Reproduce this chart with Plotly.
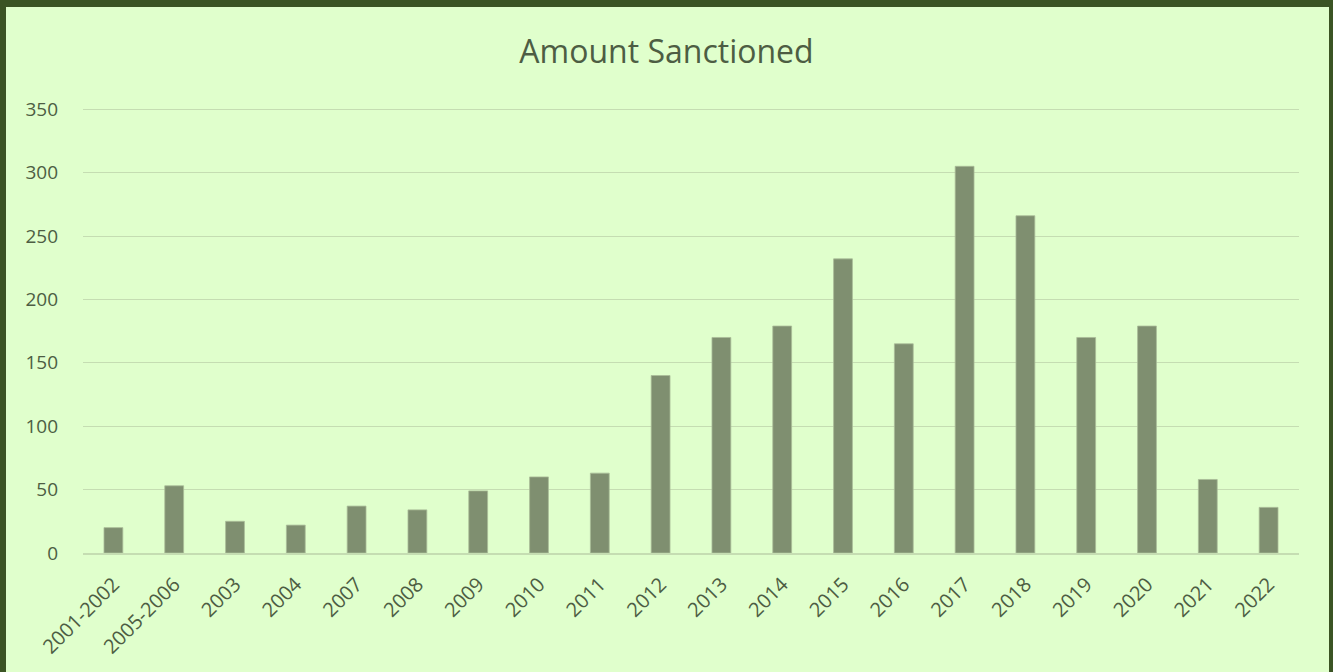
import plotly.graph_objects as go

categories = ["2001-2002", "2005-2006", "2003", "2004", "2007", "2008", "2009", "2010",
              "2011", "2012", "2013", "2014", "2015", "2016", "2017", "2018", "2019",
              "2020", "2021", "2022"]
amounts = [20, 53, 25, 22, 37, 34, 49, 60, 63, 140, 170, 179, 232, 165, 305, 266, 170, 179, 58, 36]
y_ticks = [0, 50, 100, 150, 200, 250, 300, 350]

W, H = 1333, 672
L, R, T, B = 83, 34, 108, 119
pw, ph = W - L - R, H - T - B

def px_x(p):
    return (p - L) / pw

def px_y(p):
    return (H - B - p) / ph

light = "#E0FFCC"
dark = "#3B5424"
text_col = "#4D5D43"
font_fam = "Open Sans, Segoe UI, sans-serif"

fig = go.Figure(go.Bar(
    x=categories, y=amounts,
    marker=dict(color="#7F8F70", line=dict(color="#A9BC98", width=0.8)),
    width=0.31,
))

fig.add_shape(type="rect", xref="paper", yref="paper",
              x0=px_x(6), x1=px_x(1329), y0=px_y(700), y1=px_y(7),
              fillcolor=light, line=dict(width=0), layer="below")

fig.update_layout(
    width=W, height=H,
    margin=dict(l=L, r=R, t=T, b=B),
    paper_bgcolor=dark,
    plot_bgcolor=light,
    title=dict(text="Amount Sanctioned", x=0.5, xref="container", xanchor="center",
               y=1 - 52 / H, yanchor="middle",
               font=dict(family=font_fam, size=32, color=text_col)),
    showlegend=False,
    bargap=0.68,
    xaxis=dict(tickangle=-45, tickfont=dict(family=font_fam, size=20, color=text_col),
               showgrid=False, showline=True, linecolor="#C5DDB2", linewidth=1.5,
               ticks="", zeroline=False, ticklabelstandoff=10),
    yaxis=dict(range=[0, 351], tickvals=y_ticks, showgrid=True, gridcolor="#C5DDB2",
               gridwidth=1.2, zeroline=False, showline=False, ticks="",
               ticklabelstandoff=24,
               tickfont=dict(family=font_fam, size=19, color=text_col)),
)

fig.write_html("out.html", config={"displayModeBar": False},
               post_script="document.body.style.margin='0';document.body.style.overflow='hidden';document.body.style.background='" + light + "';")
